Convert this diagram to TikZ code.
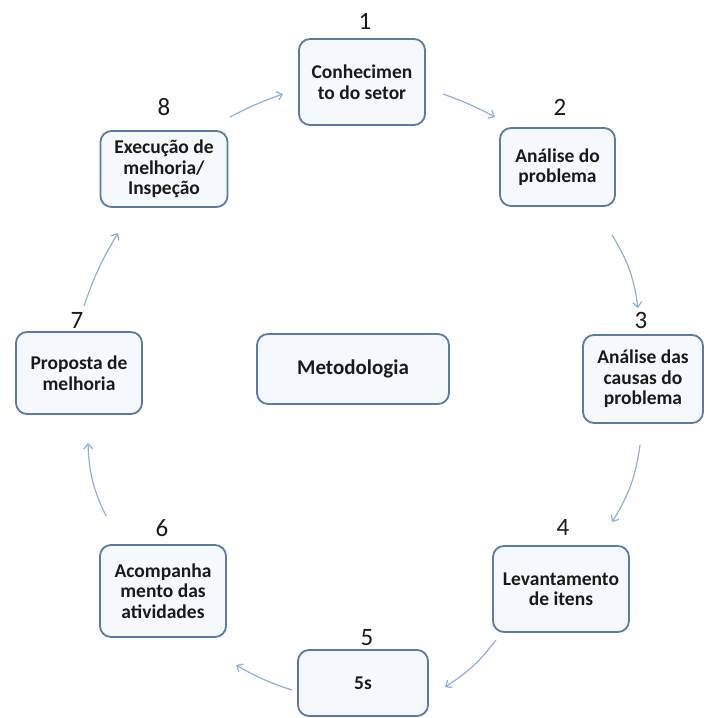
\documentclass[tikz,border=0pt]{standalone}
\usepackage{fontspec}
\setmainfont{Carlito}
\usetikzlibrary{arrows.meta}
\definecolor{boxline}{HTML}{5A7BA3}
\definecolor{boxfill}{HTML}{F5F9FD}
\definecolor{arrowc}{HTML}{8DAFDA}
\definecolor{txt}{HTML}{1A1A1A}
\tikzset{
  stepbox/.style={draw=boxline, line width=1.8pt, fill=boxfill, rounded corners=11pt,
    align=center, text=txt, font=\fontsize{19.5}{20.5}\selectfont\bfseries, inner sep=0pt},
  numlabel/.style={text=txt, font=\fontsize{25}{27}\selectfont, inner sep=0pt},
  flow/.style={draw=arrowc, line width=1.2pt, -{Straight Barb[length=5pt,width=9pt]}}
}
\begin{document}
\begin{tikzpicture}[x=1pt,y=-1pt]
\useasboundingbox (0,0) rectangle (706,718);
% boxes
\node[stepbox, minimum width=126pt, minimum height=86pt] (n1) at (362,82) {Conhecimen\\to do setor};
\node[stepbox, minimum width=115pt, minimum height=78pt] (n2) at (557.5,167) {Análise do\\problema};
\node[stepbox, minimum width=120pt, minimum height=88pt] (n3) at (643,379) {Análise das\\causas do\\problema};
\node[stepbox, minimum width=136pt, minimum height=86pt] (n4) at (561,589) {Levantamento\\de itens};
\node[stepbox, minimum width=130pt, minimum height=66pt] (n5) at (363,683) {5s};
\node[stepbox, minimum width=126pt, minimum height=92pt] (n6) at (163,591) {Acompanha\\mento das\\atividades};
\node[stepbox, minimum width=126pt, minimum height=82pt] (n7) at (79,373) {Proposta de\\melhoria};
\node[stepbox, minimum width=127pt, minimum height=76pt] (n8) at (164,169) {Execução de\\melhoria/\\Inspeção};
\node[stepbox, minimum width=192pt, minimum height=70pt, font=\fontsize{21}{22}\selectfont\bfseries] (m) at (353,369) {Metodologia};
% numbers
\node[numlabel] (l1) at (365,21) {1};
\node[numlabel] (l2) at (560,107) {2};
\node[numlabel] (l3) at (641,320) {3};
\node[numlabel] (l4) at (563,527) {4};
\node[numlabel] (l5) at (367,638) {5};
\node[numlabel] (l6) at (162,528) {6};
\node[numlabel] (l7) at (77,320) {7};
\node[numlabel] (l8) at (164,107) {8};
% arrow end points
\coordinate (a1s) at (230,117); \coordinate (a1e) at (283,94);
\coordinate (a2s) at (443,94);  \coordinate (a2e) at (495,117);
\coordinate (a3s) at (612,235); \coordinate (a3e) at (638,308);
\coordinate (a4s) at (640,445); \coordinate (a4e) at (612,522);
\coordinate (a5s) at (496,640); \coordinate (a5e) at (445,687);
\coordinate (a6s) at (292,690); \coordinate (a6e) at (236,665);
\coordinate (a7s) at (106,516); \coordinate (a7e) at (88,443);
\coordinate (a8s) at (84,306);  \coordinate (a8e) at (118,233);
\draw[flow] (a1s) to[bend left=4] (a1e);
\draw[flow] (a2s) to[bend left=4] (a2e);
\draw[flow] (a3s) to[bend left=12] (a3e);
\draw[flow] (a4s) to[bend left=12] (a4e);
\draw[flow] (a5s) to[bend left=10] (a5e);
\draw[flow] (a6s) to[bend left=6] (a6e);
\draw[flow] (a7s) to[bend left=12] (a7e);
\draw[flow] (a8s) to[bend left=6] (a8e);
\end{tikzpicture}
\end{document}
